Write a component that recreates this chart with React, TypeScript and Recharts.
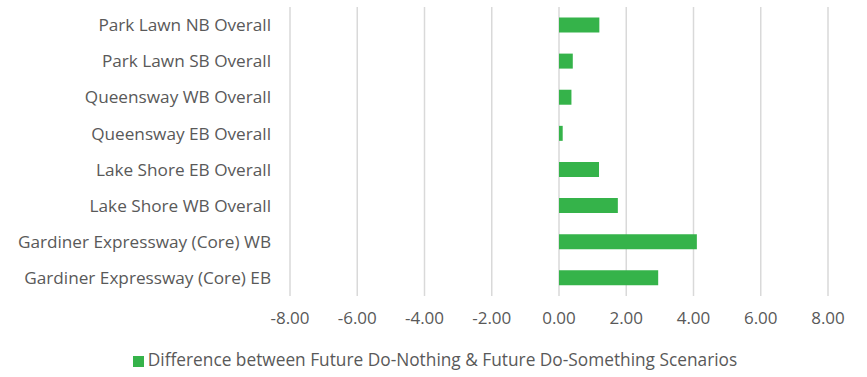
import React from 'react';
import { Bar, BarChart, CartesianGrid, Legend, XAxis, YAxis } from 'recharts';

const categories = [
  'Park Lawn NB Overall',
  'Park Lawn SB Overall',
  'Queensway WB Overall',
  'Queensway EB Overall',
  'Lake Shore EB Overall',
  'Lake Shore WB Overall',
  'Gardiner Expressway (Core) WB',
  'Gardiner Expressway (Core) EB',
];

const differences = [1.2, 0.41, 0.37, 0.11, 1.19, 1.75, 4.1, 2.95];

const xTicks = [-8, -6, -4, -2, 0, 2, 4, 6, 8];

const seriesName = 'Difference between Future Do-Nothing & Future Do-Something Scenarios';

const data = categories.map((name, i) => ({ name, value: differences[i] }));

const textColor = '#595959';
const font = '"Open Sans", sans-serif';

export default function App() {
  return (
    <div style={{ position: 'absolute', left: 0, top: 0, width: 867, height: 377, background: '#fff', fontFamily: font }}>
      <BarChart
        width={867}
        height={377}
        data={data}
        layout="vertical"
        margin={{ top: 7, right: 39, bottom: 6, left: 0 }}
        barCategoryGap="29%"
      >
        <CartesianGrid horizontal={false} vertical stroke="#d9d9d9" strokeWidth={1.5} />
        <XAxis
          type="number"
          domain={[-8, 8]}
          ticks={xTicks}
          tickFormatter={(v: number) => v.toFixed(2)}
          axisLine={false}
          tickLine={false}
          tickMargin={10}
          tick={{ fill: textColor, fontSize: 17, fontFamily: font }}
          height={52}
        />
        <YAxis
          type="category"
          dataKey="name"
          width={290}
          axisLine={false}
          tickLine={false}
          tickMargin={13}
          interval={0}
          tick={{ fill: textColor, fontSize: 17.2, fontFamily: font }}
        />
        <Legend
          verticalAlign="bottom"
          iconType="square"
          iconSize={11}
          wrapperStyle={{ fontSize: 17.3, color: textColor, left: 26 }}
          formatter={(v: string) => <span style={{ color: textColor }}>{v}</span>}
        />
        <Bar dataKey="value" name={seriesName} fill="#35b34a" isAnimationActive={false} />
      </BarChart>
    </div>
  );
}
